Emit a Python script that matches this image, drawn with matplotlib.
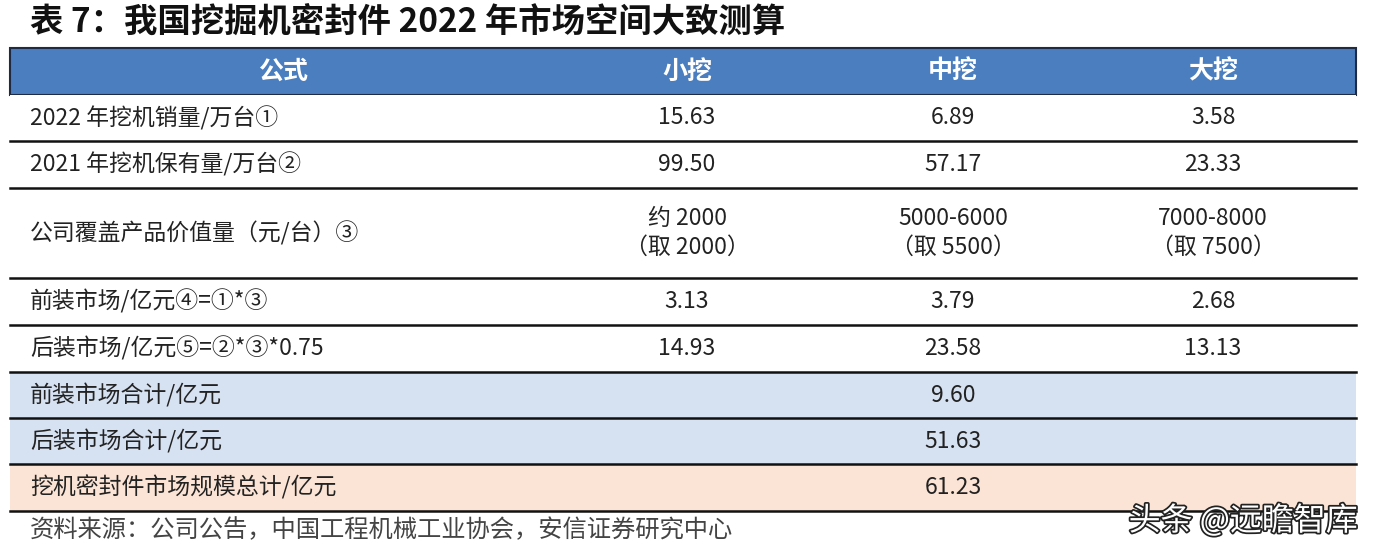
import matplotlib
matplotlib.use("Agg")
import matplotlib.pyplot as plt
import matplotlib.patheffects as pe
from matplotlib.patches import Rectangle

plt.rcParams['font.family'] = ['Noto Sans CJK SC', 'DejaVu Sans']

title = "表 7：我国挖掘机密封件 2022 年市场空间大致测算"
headers = ["公式", "小挖", "中挖", "大挖"]
row_labels = [
    "2022 年挖机销量/万台①",
    "2021 年挖机保有量/万台②",
    "公司覆盖产品价值量（元/台）③",
    "前装市场/亿元④=①*③",
    "后装市场/亿元⑤=②*③*0.75",
]
small = ["15.63", "99.50", "约 2000\n（取 2000）", "3.13", "14.93"]
medium = ["6.89", "57.17", "5000-6000\n（取 5500）", "3.79", "23.58"]
large = ["3.58", "23.33", "7000-8000\n（取 7500）", "2.68", "13.13"]
total_labels = ["前装市场合计/亿元", "后装市场合计/亿元", "挖机密封件市场规模总计/亿元"]
total_values = ["9.60", "51.63", "61.23"]
source = "资料来源：公司公告，中国工程机械工业协会，安信证券研究中心"

# layout (pixel units)
W, H = 1374, 554
x0, x1 = 10, 1356
col_centers = [283, 687, 953, 1213]
header_top, header_bot = 48, 95
row_heights = [46, 47, 90, 47, 47, 46, 46, 47]
row_fills = ["white"] * 5 + ["#d6e1f1", "#d6e1f1", "#fbe4d5"]

fig = plt.figure(figsize=(W / 100, H / 100), dpi=100)
ax = fig.add_axes([0, 0, 1, 1])
ax.set_xlim(0, W)
ax.set_ylim(H, 0)
ax.axis("off")

ax.text(30, 23, title, fontsize=24, fontweight="bold", va="center", ha="left", color="#111111")

ax.add_patch(Rectangle((x0, header_top), x1 - x0, header_bot - header_top,
                       facecolor="#4a7ebf", edgecolor="#1f2a44", lw=1.5))
for h, cx in zip(headers, col_centers):
    ax.text(cx, (header_top + header_bot) / 2, h, fontsize=18, fontweight="bold",
            color="white", ha="center", va="center")

labels = row_labels + total_labels
y = header_bot
for i, rh in enumerate(row_heights):
    ax.add_patch(Rectangle((x0, y), x1 - x0, rh, facecolor=row_fills[i], edgecolor="none"))
    yc = y + rh / 2
    ax.text(30, yc, labels[i], fontsize=16.5, color="#222222", ha="left", va="center")
    if i < len(row_labels):
        for val, cx in zip([small[i], medium[i], large[i]], col_centers[1:]):
            ax.text(cx, yc, val, fontsize=16.5, color="#222222", ha="center", va="center",
                    linespacing=1.35)
    else:
        ax.text(col_centers[2], yc, total_values[i - len(row_labels)], fontsize=16.5,
                color="#222222", ha="center", va="center")
    y += rh
    ax.plot([x0, x1], [y, y], color="#111111", lw=1.8)

ax.text(30, 530, source, fontsize=17.5, color="#444444", ha="left", va="center", style="italic")

ax.text(1358, 521, "头条 @远瞻智库", fontsize=23, color="white", ha="right", va="center",
        path_effects=[pe.withStroke(linewidth=2.5, foreground="#222222")])

fig.savefig("out.png", dpi=100)
